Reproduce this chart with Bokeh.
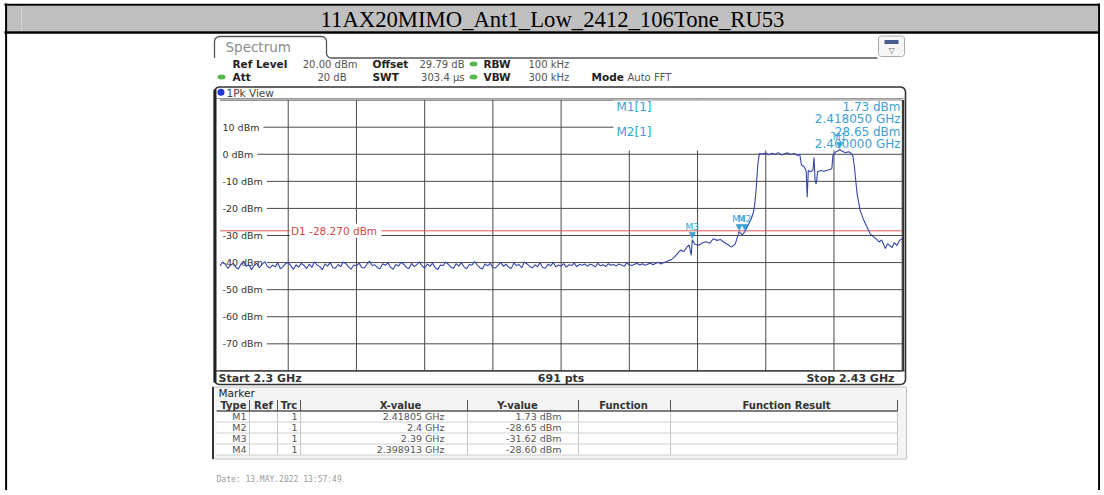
import math
from bokeh.plotting import figure
from bokeh.models import Range1d
from bokeh.core.properties import value
from bokeh.embed import file_html
from bokeh.resources import INLINE

# ---------------- data ----------------
TITLE = "11AX20MIMO_Ant1_Low_2412_106Tone_RU53"

# noise floor part of the trace (2.300 ... 2.386 GHz)
noise_freq_ghz = [
    2.3000, 2.3005, 2.3010, 2.3015, 2.3020, 2.3025, 2.3030, 2.3035, 2.3040, 2.3045,
    2.3050, 2.3055, 2.3060, 2.3065, 2.3070, 2.3075, 2.3080, 2.3085, 2.3090, 2.3095,
    2.3100, 2.3105, 2.3110, 2.3115, 2.3120, 2.3125, 2.3130, 2.3135, 2.3140, 2.3145,
    2.3150, 2.3155, 2.3160, 2.3165, 2.3170, 2.3175, 2.3180, 2.3185, 2.3190, 2.3195,
    2.3200, 2.3205, 2.3210, 2.3215, 2.3220, 2.3225, 2.3230, 2.3235, 2.3240, 2.3245,
    2.3250, 2.3255, 2.3260, 2.3265, 2.3270, 2.3275, 2.3280, 2.3285, 2.3290, 2.3295,
    2.3300, 2.3305, 2.3310, 2.3315, 2.3320, 2.3325, 2.3330, 2.3335, 2.3340, 2.3345,
    2.3350, 2.3355, 2.3360, 2.3365, 2.3370, 2.3375, 2.3380, 2.3385, 2.3390, 2.3395,
    2.3400, 2.3405, 2.3410, 2.3415, 2.3420, 2.3425, 2.3430, 2.3435, 2.3440, 2.3445,
    2.3450, 2.3455, 2.3460, 2.3465, 2.3470, 2.3475, 2.3480, 2.3485, 2.3490, 2.3495,
    2.3500, 2.3505, 2.3510, 2.3515, 2.3520, 2.3525, 2.3530, 2.3535, 2.3540, 2.3545,
    2.3550, 2.3555, 2.3560, 2.3565, 2.3570, 2.3575, 2.3580, 2.3585, 2.3590, 2.3595,
    2.3600, 2.3605, 2.3610, 2.3615, 2.3620, 2.3625, 2.3630, 2.3635, 2.3640, 2.3645,
    2.3650, 2.3655, 2.3660, 2.3665, 2.3670, 2.3675, 2.3680, 2.3685, 2.3690, 2.3695,
    2.3700, 2.3705, 2.3710, 2.3715, 2.3720, 2.3725, 2.3730, 2.3735, 2.3740, 2.3745,
    2.3750, 2.3755, 2.3760, 2.3765, 2.3770, 2.3775, 2.3780, 2.3785, 2.3790, 2.3795,
    2.3800, 2.3805, 2.3810, 2.3815, 2.3820, 2.3825, 2.3830, 2.3835, 2.3840, 2.3845,
    2.3850, 2.3855, 2.3860,
]
noise_level_dbm = [
    -41.2, -39.8, -40.6, -42.1, -41.0, -40.3, -41.7, -42.4, -40.5, -39.9,
    -41.4, -40.8, -42.6, -41.1, -40.2, -41.9, -40.7, -39.6, -41.3, -42.0,
    -40.9, -41.6, -40.1, -42.3, -41.5, -40.4, -39.9, -41.2, -42.5, -40.8,
    -41.7, -40.3, -41.0, -42.2, -40.6, -41.8, -39.7, -40.9, -41.4, -42.7,
    -40.5, -41.3, -40.0, -41.9, -42.1, -40.7, -41.5, -39.8, -40.4, -41.6,
    -42.4, -40.9, -41.2, -40.2, -41.8, -42.0, -40.6, -39.5, -41.1, -40.8,
    -41.9, -42.3, -40.4, -41.0, -40.1, -41.7, -42.5, -40.7, -41.3, -39.9,
    -40.6, -41.8, -42.2, -40.3, -41.5, -40.8, -39.7, -41.2, -42.0, -40.5,
    -41.4, -40.2, -41.9, -42.6, -40.9, -41.1, -39.8, -40.6, -41.7, -42.1,
    -40.4, -41.3, -40.0, -41.6, -42.3, -40.7, -41.0, -39.6, -40.8, -41.9,
    -42.4, -40.5, -41.2, -40.3, -41.8, -42.0, -40.9, -39.9, -41.4, -40.6,
    -41.7, -42.2, -40.2, -41.1, -40.7, -41.9, -39.8, -40.5, -41.3, -42.0,
    -40.8, -41.5, -40.1, -41.8, -42.1, -40.6, -41.2, -40.0, -41.6, -40.9,
    -41.3, -40.4, -41.7, -40.8, -41.1, -40.2, -41.5, -40.7, -41.0, -40.5,
    -41.4, -40.6, -40.9, -41.6, -40.3, -41.2, -40.8, -41.5, -40.4, -41.0,
    -40.7, -41.3, -40.5, -40.9, -41.4, -40.2, -40.8, -41.1, -40.6, -40.3,
    -40.9, -40.4, -41.0, -40.6, -40.2, -40.8, -40.3, -39.9, -40.5, -40.1,
    -39.7, -39.2, -38.9,
]
# skirt, channel and upper part of the trace
band_freq_ghz = [
    2.3866, 2.3872, 2.3878, 2.3884, 2.3890, 2.3894, 2.3898, 2.3900, 2.3905, 2.3912,
    2.3919, 2.3926, 2.3933, 2.3940, 2.3947, 2.3954, 2.3961, 2.3968, 2.3975, 2.3982,
    2.398913, 2.3995, 2.4000, 2.4006, 2.4012, 2.4016, 2.4019, 2.4022, 2.4025, 2.4028,
    2.4034, 2.4040, 2.4046, 2.4052, 2.4058, 2.4064, 2.4070, 2.4076, 2.4082, 2.4088,
    2.4094, 2.4100, 2.4105, 2.4108, 2.4113, 2.4117, 2.4119, 2.4121, 2.4126, 2.4130,
    2.4132, 2.4134, 2.4136, 2.4139, 2.4145, 2.4151, 2.4157, 2.4163, 2.4166, 2.4168,
    2.4173, 2.4178, 2.41805, 2.4186, 2.4192, 2.4198, 2.4203, 2.4206, 2.4209, 2.4214,
    2.4220, 2.4227, 2.4233, 2.4239, 2.4246, 2.4251, 2.4256, 2.4261, 2.4265, 2.4268,
    2.4272, 2.4277, 2.4281, 2.4285, 2.4290, 2.4295, 2.4300,
]
band_level_dbm = [
    -38.0, -36.6, -35.4, -35.9, -34.2, -33.5, -37.3, -31.62, -33.2, -33.6,
    -32.8, -32.3, -32.9, -31.2, -31.8, -31.5, -32.6, -33.4, -34.3, -33.1,
    -28.60, -29.8, -28.65, -26.3, -24.0, -21.8, -18.5, -12.0, -3.5, 0.3,
    0.1, 0.5, -0.2, 0.4, 0.0, 0.6, -0.3, 0.2, 0.5, -0.1,
    0.3, -0.4, -0.2, -4.0, -4.6, -6.2, -15.9, -6.0, -6.5, -5.8,
    -1.2, -9.8, -11.0, -6.4, -6.0, -6.3, -5.9, -5.6, -5.2, -0.3,
    0.8, 1.3, 1.73, 1.1, 0.6, 0.9, 0.3, -0.6, -4.8, -14.6,
    -20.8, -24.5, -26.9, -29.4, -30.6, -31.3, -32.4, -31.6, -33.5, -34.8,
    -33.0, -33.9, -34.4, -32.6, -33.7, -31.8, -31.2,
]

x_ticks_ghz = [2.300, 2.313, 2.326, 2.339, 2.352, 2.365, 2.378, 2.391, 2.404, 2.417, 2.430]
y_ticks_dbm = [20, 10, 0, -10, -20, -30, -40, -50, -60, -70, -80]
y_label_ticks = [10, 0, -10, -20, -30, -40, -50, -60, -70]
y_label_text = ["10 dBm", "0 dBm", "-10 dBm", "-20 dBm", "-30 dBm", "-40 dBm",
                "-50 dBm", "-60 dBm", "-70 dBm"]

display_line_dbm = -28.27

marker_names = ["M1", "M2", "M3", "M4"]
marker_freq_ghz = [2.41805, 2.4, 2.39, 2.398913]
marker_level_dbm = [1.73, -28.65, -31.62, -28.60]
marker_x_text = ["2.41805 GHz", "2.4 GHz", "2.39 GHz", "2.398913 GHz"]
marker_y_text = ["1.73 dBm", "-28.65 dBm", "-31.62 dBm", "-28.60 dBm"]

freq_ghz = noise_freq_ghz + band_freq_ghz
level_dbm = noise_level_dbm + band_level_dbm

# ---------------- layout (reference pixel space) ----------------
W, H = 1100, 490
GX0, GX1 = 219.5, 901.7      # grid left/right (2.30 / 2.43 GHz)
GY0, GY1 = 99.6, 370.4       # grid top/bottom (20 / -80 dBm)
F0, F1 = 2.30, 2.43
L0, L1 = 20.0, -80.0


def fx(px):
    return F0 + (px - GX0) / (GX1 - GX0) * (F1 - F0)


def ly(py):
    return L0 + (py - GY0) / (GY1 - GY0) * (L1 - L0)


p = figure(width=W, height=H, x_range=Range1d(0, W), y_range=Range1d(H, 0),
           output_backend="svg", toolbar_location=None,
           x_axis_type=None, y_axis_type=None, min_border=0)
p.outline_line_color = None
p.background_fill_color = "white"
p.border_fill_color = "white"
p.extra_x_ranges = {"f": Range1d(fx(0), fx(W))}
p.extra_y_ranges = {"l": Range1d(ly(H), ly(0))}

SANS = value("DejaVu Sans")
MONO = value("DejaVu Sans Mono")
SERIF = value("Liberation Serif")


def rounded(x0, y0, x1, y1, r, n=6):
    xs, ys = [], []
    for cx, cy, a0, a1 in [(x1 - r, y0 + r, -90, 0), (x1 - r, y1 - r, 0, 90),
                           (x0 + r, y1 - r, 90, 180), (x0 + r, y0 + r, 180, 270)]:
        for i in range(n + 1):
            a = math.radians(a0 + (a1 - a0) * i / n)
            xs.append(cx + r * math.cos(a))
            ys.append(cy + r * math.sin(a))
    xs.append(xs[0])
    ys.append(ys[0])
    return xs, ys


def txt(x, y, s, size="10px", color="#222", align="left", style="normal", font=SANS, **kw):
    p.text(x=[x], y=[y], text=[s], text_font=font, text_font_size=size,
           text_color=color, text_align=align, text_baseline="middle",
           text_font_style=style, **kw)


# ---------------- outer table ----------------
p.quad(left=5, right=1099, top=5, bottom=31, fill_color="#c0c0c0", line_color=None)
p.segment(x0=21, x1=21, y0=5, y1=31, line_color="#d4d4d4", line_width=1)
p.segment(x0=4, x1=1100, y0=4.2, y1=4.2, line_color="black", line_width=2)
p.segment(x0=4, x1=1100, y0=32, y1=32, line_color="black", line_width=2.6)
p.segment(x0=[5.6, 1098.6], x1=[5.6, 1098.6], y0=[3, 3], y1=[H, H],
          line_color="black", line_width=2)
txt(552, 18.5, TITLE, size="22.7px", color="black", align="center", font=SERIF)

# ---------------- spectrum tab & header ----------------
tab_x = [214, 214]
tab_y = [57.5, 41]
for i in range(7):
    a = math.radians(180 + 90 * i / 6)
    tab_x.append(219 + 5 * math.cos(a)); tab_y.append(41 + 5 * math.sin(a))
for i in range(7):
    a = math.radians(270 + 90 * i / 6)
    tab_x.append(321 + 5 * math.cos(a)); tab_y.append(41 + 5 * math.sin(a))
for i in range(7):
    a = math.radians(180 - 90 * i / 6)
    tab_x.append(331 + 5 * math.cos(a)); tab_y.append(52.5 + 5 * math.sin(a))
tab_x.append(877)
tab_y.append(57.5)
p.line(tab_x, tab_y, line_color="#555", line_width=1.3)
txt(225, 46.5, "Spectrum", size="13.5px", color="#8c8c8c")

ix, iy = rounded(878, 35.5, 904, 56, 3)
p.patch(ix, iy, fill_color="#f6f6f6", line_color="#a8a8a8", line_width=1)
p.quad(left=884, right=898, top=39.5, bottom=43.5, fill_color="#4a5a8a", line_color=None)
txt(891, 49.5, "\u25bd", size="8px", color="#666", align="center")

r1, r2 = 63.5, 76.5
LB = "10.5px"
txt(232, r1, "Ref Level", size=LB, style="bold")
txt(357, r1, "20.00 dBm", color="#555", align="right")
txt(372, r1, "Offset", size=LB, style="bold")
txt(464, r1, "29.79 dB", color="#555", align="right")
txt(483, r1, "RBW", size=LB, style="bold")
txt(528, r1, "100 kHz", color="#555")
txt(232, r2, "Att", size=LB, style="bold")
txt(346, r2, "20 dB", color="#555", align="right")
txt(372, r2, "SWT", size=LB, style="bold")
txt(464, r2, "303.4 \u00b5s", color="#555", align="right")
txt(483, r2, "VBW", size=LB, style="bold")
txt(528, r2, "300 kHz", color="#555")
txt(591, r2, "Mode", size=LB, style="bold")
txt(627, r2, "Auto FFT", color="#555")
p.ellipse(x=[473, 473, 221], y=[r1, r2, r2], width=8, height=5,
          fill_color="#55b84a", line_color=None)

# ---------------- diagram window ----------------
fx_, fy_ = rounded(214, 86.5, 905, 384, 5)
p.patch(fx_, fy_, fill_color="white", line_color="#333", line_width=1.6)
p.segment(x0=215, x1=904, y0=98, y1=98, line_color="#9a9a9a", line_width=1)
p.segment(x0=214.5, x1=214.5, y0=89, y1=382, line_color="#222", line_width=3)
p.ellipse(x=[220.5], y=[91.8], width=7, height=7, fill_color="#1f35d6", line_color=None)
txt(226, 92, "1Pk View", size="10.5px", color="#444")

GRID = "#4a4a4a"
p.segment(x0=x_ticks_ghz[1:], x1=x_ticks_ghz[1:], y0=L1, y1=L0,
          x_range_name="f", y_range_name="l", line_color=GRID, line_width=1)
p.segment(x0=F0, x1=F1, y0=y_ticks_dbm, y1=y_ticks_dbm,
          x_range_name="f", y_range_name="l", line_color=GRID, line_width=1)

# marker info area
p.quad(left=613, right=901, top=GY0 + 0.5, bottom=150, fill_color="white", line_color=None)
CYAN = "#3a9fd5"
txt(616, 106, "%s[1]" % marker_names[0], size="12px", color=CYAN)
txt(616, 131, "%s[1]" % marker_names[1], size="12px", color=CYAN)
txt(900, 106, "%.2f dBm" % marker_level_dbm[0], size="12px", color=CYAN, align="right")
txt(900, 118.5, "%.6f GHz" % marker_freq_ghz[0], size="12px", color=CYAN, align="right")
txt(900, 131, "%.2f dBm" % marker_level_dbm[1], size="12px", color=CYAN, align="right")
txt(900, 143.5, "%.6f GHz" % marker_freq_ghz[1], size="12px", color=CYAN, align="right")

# y labels inside the grid
p.text(x=[F0] * len(y_label_ticks), y=y_label_ticks, text=y_label_text,
       x_range_name="f", y_range_name="l", x_offset=-1.5,
       text_font=SANS, text_font_size="9.5px", text_color="#333",
       text_align="left", text_baseline="middle",
       background_fill_color="white", padding=4)

# display line D1
p.segment(x0=F0, x1=F1, y0=display_line_dbm, y1=display_line_dbm,
          x_range_name="f", y_range_name="l", line_color="#e05a5a", line_width=1)
p.text(x=[F0], y=[display_line_dbm], text=["D1  %.3f dBm" % display_line_dbm],
       x_range_name="f", y_range_name="l", x_offset=70,
       text_font=SANS, text_font_size="10.5px", text_color="#d04848",
       text_align="left", text_baseline="middle",
       background_fill_color="white", padding=1)

# trace
p.line(freq_ghz, level_dbm, x_range_name="f", y_range_name="l",
       line_color="#3446a8", line_width=1.1)

# markers on trace
p.text(x=marker_freq_ghz, y=marker_level_dbm, text=["\u25bc"] * 4,
       x_range_name="f", y_range_name="l", text_font=SANS, text_font_size="9px",
       text_color=CYAN, text_align="center", text_baseline="bottom")
p.text(x=marker_freq_ghz, y=marker_level_dbm, text=marker_names,
       x_range_name="f", y_range_name="l", y_offset=-8, text_font=SANS,
       text_font_size="9px", text_color=CYAN, text_align="center",
       text_baseline="bottom")

# grid bottom border and footer
p.segment(x0=215, x1=904, y0=GY1, y1=GY1, line_color="#333", line_width=1.2)
p.segment(x0=GX1 + 1, x1=GX1 + 1, y0=GY0, y1=GY1, line_color="#333", line_width=2)
txt(218, 377.5, "Start %.1f GHz" % F0, size="11px", color="#333", style="bold")
txt(GX0 + (GX1 - GX0) / 2, 377.5, "691 pts", size="11px", color="#333",
    style="bold", align="center")
txt(894, 377.5, "Stop %.2f GHz" % F1, size="11px", color="#333", style="bold",
    align="right")

# ---------------- marker table ----------------
p.quad(left=212, right=906, top=386.5, bottom=458.5, fill_color="#f4f4f4",
       line_color="#c4c4c4", line_width=1)
p.segment(x0=212.5, x1=212.5, y0=386.5, y1=458.5, line_color="#333", line_width=2)
txt(218, 392, "Marker", size="10.5px", color="#222")

col_edges = [216, 249, 277, 300, 467, 578, 670, 897]
row_edges = [399.5, 410.5, 421.5, 432.5, 443.5, 454.5]
p.quad(left=216, right=897, top=row_edges[1], bottom=row_edges[-1],
       fill_color="white", line_color=None)
p.segment(x0=col_edges[1:], x1=col_edges[1:], y0=row_edges[0], y1=row_edges[1],
          line_color="#555", line_width=1)
p.segment(x0=col_edges[1:], x1=col_edges[1:], y0=row_edges[1], y1=row_edges[-1],
          line_color="#c4c4c4", line_width=1)
p.segment(x0=216, x1=897, y0=row_edges[1], y1=row_edges[1], line_color="#555", line_width=1.5)
p.segment(x0=[216] * 4, x1=[897] * 4, y0=row_edges[2:], y1=row_edges[2:],
          line_color="#cfcfcf", line_width=1)

headers = ["Type", "Ref", "Trc", "X-value", "Y-value", "Function", "Function Result"]
head_x = [233, 263, 288.5, 400, 517, 623, 786]
hy = (row_edges[0] + row_edges[1]) / 2
for hx, h in zip(head_x, headers):
    txt(hx, hy, h, size="10px", color="#333", align="center", style="bold")

for i in range(4):
    ry = (row_edges[i + 1] + row_edges[i + 2]) / 2
    txt(246, ry, marker_names[i], size="9.5px", color="#555", align="right")
    txt(297, ry, "1", size="9.5px", color="#555", align="right")
    txt(444, ry, marker_x_text[i], size="9.5px", color="#555", align="right")
    txt(561, ry, marker_y_text[i], size="9.5px", color="#555", align="right")

txt(216, 478.5, "Date: 13.MAY.2022  13:57:49", size="8px", color="#9a9a9a", font=MONO)

open("out.html", "w").write(file_html(p, INLINE))
